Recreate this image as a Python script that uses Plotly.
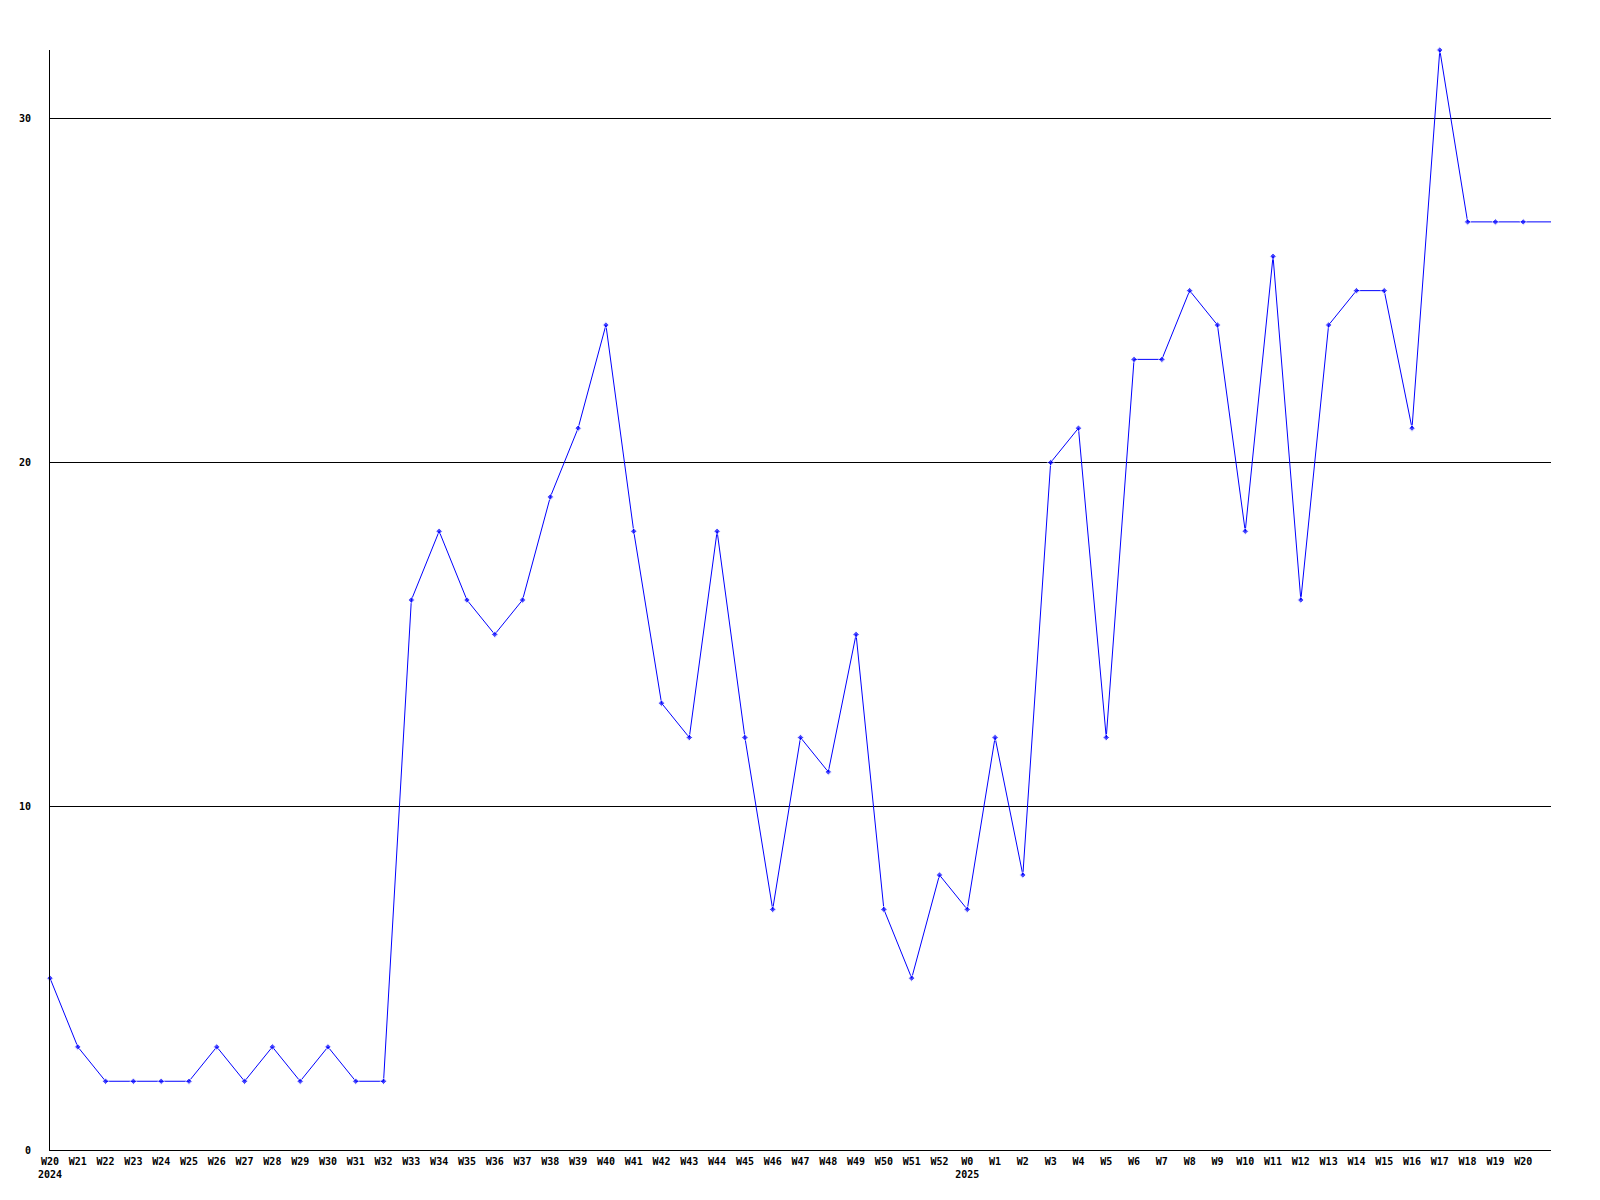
import plotly.graph_objects as go

weeks = ["W20", "W21", "W22", "W23", "W24", "W25", "W26", "W27", "W28", "W29", "W30",
         "W31", "W32", "W33", "W34", "W35", "W36", "W37", "W38", "W39", "W40", "W41",
         "W42", "W43", "W44", "W45", "W46", "W47", "W48", "W49", "W50", "W51", "W52",
         "W0", "W1", "W2", "W3", "W4", "W5", "W6", "W7", "W8", "W9", "W10", "W11",
         "W12", "W13", "W14", "W15", "W16", "W17", "W18", "W19", "W20", "W21"]
years = {0: "2024", 33: "2025"}
values = [5, 3, 2, 2, 2, 2, 3, 2, 3, 2, 3,
          2, 2, 16, 18, 16, 15, 16, 19, 21, 24, 18,
          13, 12, 18, 12, 7, 12, 11, 15, 7, 5, 8,
          7, 12, 8, 20, 21, 12, 23, 23, 25, 24, 18, 26,
          16, 24, 25, 25, 21, 32, 27, 27, 27, 27]
y_ticks = [0, 10, 20, 30]

n_labeled = len(weeks) - 1
x = list(range(len(values)))
ticktext = [w + ("<br>" + years[i] if i in years else "") for i, w in enumerate(weeks[:n_labeled])]
marker_sizes = [5] * n_labeled + [0] * (len(values) - n_labeled)

FONT = "DejaVu Sans Mono"

fig = go.Figure()
fig.add_trace(go.Scatter(
    x=x, y=values, mode="lines+markers",
    line=dict(color="#0000ff", width=1),
    marker=dict(symbol="diamond", size=marker_sizes, color="#0000ff"),
    cliponaxis=False,
    showlegend=False,
))

fig.update_layout(
    width=1592, height=1192,
    margin=dict(l=42, r=49, t=42, b=50, autoexpand=False),
    paper_bgcolor="white", plot_bgcolor="white",
    font=dict(family=FONT, size=10, color="black"),
)
fig.update_xaxes(
    range=[0, len(values) - 1],
    tickmode="array", tickvals=x[:n_labeled], ticktext=ticktext,
    showgrid=False, zeroline=False, automargin=False,
    showline=True, linecolor="black", linewidth=1,
    ticks="", ticklabelstandoff=2,
    tickfont=dict(family=FONT, size=10, color="black", weight="bold"),
)
fig.update_yaxes(
    range=[0, 32],
    tickmode="array", tickvals=y_ticks, ticktext=[str(v) for v in y_ticks],
    showgrid=True, gridcolor="black", gridwidth=1,
    zeroline=False, automargin=False,
    showline=True, linecolor="black", linewidth=1,
    ticks="", ticklabelstandoff=16,
    tickfont=dict(family=FONT, size=10, color="black", weight="bold"),
)

fig.write_html("out.html")
